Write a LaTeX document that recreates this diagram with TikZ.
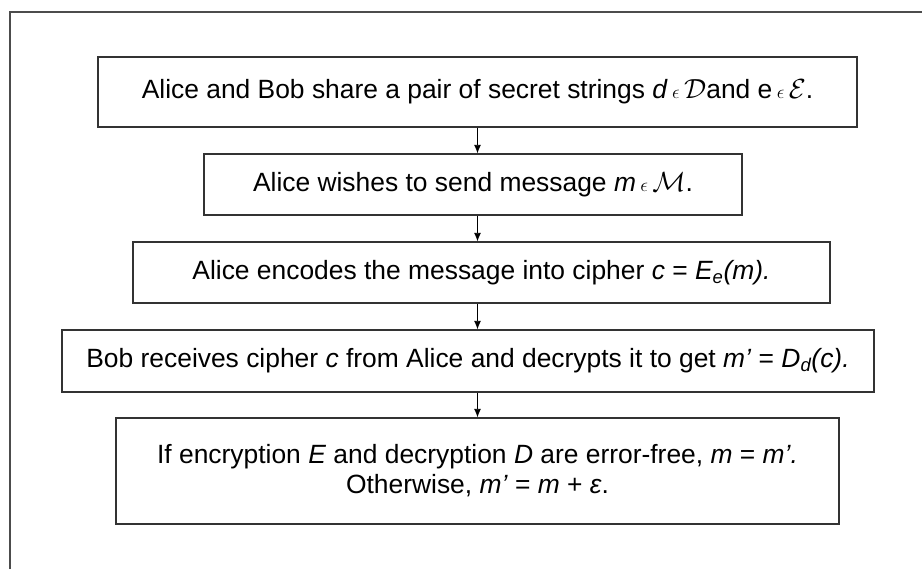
\documentclass[tikz,border=0pt]{standalone}
\usepackage{fontspec}
\setmainfont{Liberation Sans}
\usetikzlibrary{arrows.meta}

\begin{document}
\begin{tikzpicture}
[x=0.75pt,y=-0.75pt,%
  every node/.style={font=\fontsize{19.8}{22.5}\selectfont},%
  box/.style={draw=black!80,line width=0.8pt,inner sep=0pt,align=center},%
  flow/.style={-{Latex[length=6.5pt,width=5.2pt]},line width=0.7pt},%
  frame/.style={draw=black!70,line width=1.1pt}]
\useasboundingbox (0,0) rectangle (922,569);
\draw[frame] (10,569) -- (10,12) -- (922,12);
\node[box,minimum width=569.25pt,minimum height=52.5pt] (share) at (477.5,92)
  {Alice and Bob share a pair of secret strings \textit{d}\,$\scriptstyle\epsilon$\,$\mathcal{D}$and e\,$\scriptstyle\epsilon$\,$\mathcal{E}$.};
\node[box,minimum width=403.5pt,minimum height=45.75pt] (wish) at (473,184.5)
  {Alice wishes to send message \textit{m}\,$\scriptstyle\epsilon$\,$\mathcal{M}$.};
\node[box,minimum width=522.75pt,minimum height=45.75pt] (encode) at (481.5,272.5)
  {Alice encodes the message into cipher \textit{c} = \textit{E\textsubscript{e}(m).}};
\node[box,minimum width=609pt,minimum height=46.5pt] (decode) at (468,361)
  {Bob receives cipher \textit{c} from Alice and decrypts it to get \textit{m’} = \textit{D\textsubscript{d}(c).}};
\node[box,minimum width=542.25pt,minimum height=79.5pt] (result) at (477.5,471)
  {If encryption \textit{E} and decryption \textit{D} are error-free, \textit{m} = \textit{m’.}\\
   Otherwise, \textit{m’} = \textit{m} + \textit{ε}.};
\draw[flow] (share.south) -- (share.south |- wish.north);
\draw[flow] (share.south |- wish.south) -- (share.south |- encode.north);
\draw[flow] (share.south |- encode.south) -- (share.south |- decode.north);
\draw[flow] (share.south |- decode.south) -- (share.south |- result.north);
\end{tikzpicture}
\end{document}
